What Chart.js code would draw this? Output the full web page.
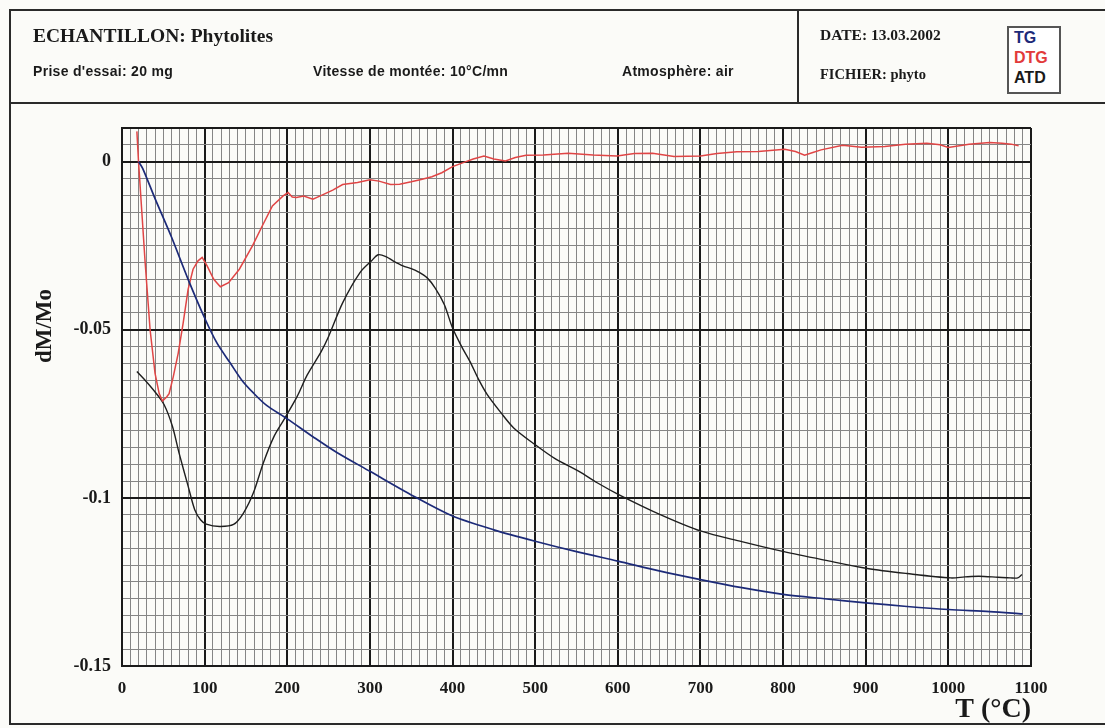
<!DOCTYPE html>
<html>
<head>
<meta charset="utf-8">
<script src="https://cdn.jsdelivr.net/npm/chart.js@4.4.1/dist/chart.umd.min.js"></script>
<style>
  body { margin: 0; background: #fbfbf8; }
  #page { position: relative; width: 1105px; height: 728px; overflow: hidden; background: #fbfbf8; }
  #myChart { position: absolute; left: 0; top: 0; }
  .ln { position: absolute; background: #2a2a2a; }
  .t { position: absolute; white-space: nowrap; color: #1a1a1a; }
  .serif { font-family: "Liberation Serif", "DejaVu Serif", serif; font-weight: bold; }
  .sans { font-family: "Liberation Sans", Arial, sans-serif; font-weight: bold; letter-spacing: 0.3px; }
  #key { position: absolute; left: 1007px; top: 26px; width: 50px; height: 64px; border: 2px solid #555; background: #fff; }
  #key div { font-family: "Liberation Sans", Arial, sans-serif; font-weight: bold; font-size: 16px; line-height: 20px; padding-left: 5px; }
</style>
</head>
<body>
<div id="page">
  <canvas id="myChart" width="1105" height="728"></canvas>

  <!-- frame -->
  <div class="ln" style="left:9px;top:9px;width:1096px;height:2px"></div>
  <div class="ln" style="left:9px;top:102px;width:1096px;height:2px"></div>
  <div class="ln" style="left:9px;top:723px;width:1096px;height:2px"></div>
  <div class="ln" style="left:9px;top:9px;width:2px;height:716px"></div>
  <div class="ln" style="left:797px;top:9px;width:2px;height:95px"></div>

  <!-- header -->
  <div class="t serif" style="left:33px;top:25px;font-size:19.5px">ECHANTILLON: Phytolites</div>
  <div class="t sans" style="left:33px;top:63px;font-size:14px">Prise d'essai: 20 mg</div>
  <div class="t sans" style="left:313px;top:63px;font-size:14px">Vitesse de montée: 10°C/mn</div>
  <div class="t sans" style="left:622px;top:63px;font-size:14px">Atmosphère: air</div>
  <div class="t serif" style="left:820px;top:26px;font-size:15.5px">DATE: 13.03.2002</div>
  <div class="t serif" style="left:820px;top:66px;font-size:14.5px">FICHIER: phyto</div>
  <div id="key">
    <div style="color:#1c2a78">TG</div>
    <div style="color:#e23a3a">DTG</div>
    <div style="color:#1a1a1a">ATD</div>
  </div>
</div>

<script>
var ctx = document.getElementById('myChart').getContext('2d');

// tick labels
var xTickLabels = [0, 100, 200, 300, 400, 500, 600, 700, 800, 900, 1000, 1100]
var yTickLabels = [0, -0.05, -0.1, -0.15]

// TG (blue)
var tgT = [20, 25, 40, 60, 80, 100, 115, 131, 145, 159, 175, 200, 231, 260, 300, 353, 400, 450, 500, 550, 600, 650, 700, 750, 800, 850, 900, 950, 1000, 1050, 1090]
var tgV = [0, -0.002, -0.011, -0.0225, -0.035, -0.0465, -0.054, -0.0599, -0.065, -0.0688, -0.0725, -0.0765, -0.0818, -0.0865, -0.0921, -0.0995, -0.1054, -0.1095, -0.1129, -0.116, -0.1188, -0.1217, -0.1243, -0.1267, -0.1287, -0.13, -0.1312, -0.1323, -0.1332, -0.1338, -0.1345]

// DTG (red)
var dtgT = [18, 20, 24, 28, 34, 40, 45, 49, 54, 57, 62, 68, 74, 80, 86, 92, 97, 103, 111, 119, 129, 142, 158, 170, 182, 195, 201, 206, 211, 220, 231, 240, 255, 267, 285, 300, 311, 325, 336, 350, 362, 375, 387, 400, 413, 425, 438, 450, 464, 476, 489, 510, 540, 570, 599, 620, 642, 668, 700, 720, 744, 770, 802, 815, 826, 836, 846, 872, 895, 923, 948, 974, 990, 1000, 1025, 1050, 1065, 1076, 1085]
var dtgV = [0.009, 0.0, -0.015, -0.03, -0.05, -0.063, -0.069, -0.0712, -0.070, -0.069, -0.064, -0.057, -0.048, -0.038, -0.032, -0.0295, -0.0285, -0.031, -0.035, -0.0372, -0.036, -0.032, -0.025, -0.019, -0.0132, -0.0102, -0.0092, -0.0105, -0.0107, -0.0102, -0.0112, -0.0102, -0.0085, -0.0068, -0.0062, -0.0054, -0.0058, -0.0068, -0.0067, -0.006, -0.0053, -0.0045, -0.0033, -0.0015, -0.0003, 0.0008, 0.0017, 0.0008, 0.0002, 0.0012, 0.0019, 0.002, 0.0025, 0.002, 0.0017, 0.0024, 0.0025, 0.0015, 0.0017, 0.0024, 0.0029, 0.003, 0.0037, 0.003, 0.0019, 0.0027, 0.0035, 0.0049, 0.0043, 0.0045, 0.0052, 0.0055, 0.005, 0.0042, 0.0052, 0.0057, 0.0055, 0.0052, 0.0047]

// ATD (black)
var atdT = [18, 29, 41, 51, 61, 69, 80, 88, 95, 102, 118, 135, 147, 159, 171, 184, 196, 212, 224, 241, 250, 267, 288, 302, 310, 320, 328, 340, 350, 358, 369, 379, 390, 400, 411, 421, 432, 442, 458, 474, 500, 525, 553, 575, 601, 650, 701, 750, 801, 850, 902, 950, 1003, 1020, 1037, 1060, 1075, 1084, 1089]
var atdV = [-0.0624, -0.0653, -0.0688, -0.0723, -0.0787, -0.0866, -0.0965, -0.1035, -0.1065, -0.1078, -0.1085, -0.1079, -0.1045, -0.0985, -0.0896, -0.0817, -0.0767, -0.0698, -0.0635, -0.0565, -0.052, -0.042, -0.033, -0.0295, -0.0277, -0.0283, -0.0295, -0.031, -0.0318, -0.0327, -0.0345, -0.0376, -0.0425, -0.0495, -0.055, -0.0594, -0.065, -0.0693, -0.0745, -0.0792, -0.0842, -0.0885, -0.0921, -0.0955, -0.099, -0.1048, -0.1099, -0.113, -0.116, -0.1185, -0.121, -0.1225, -0.1238, -0.1235, -0.1233, -0.1236, -0.1238, -0.1238, -0.1228]

function pts(xs, ys) {
  var out = []
  for (var i = 0; i < xs.length; i++) out.push({x: xs[i], y: ys[i]})
  return out
}

function xMajor(v) { return xTickLabels.indexOf(Math.round(v)) >= 0 }
function yMajor(v) {
  var r = Math.round(v * 1000)
  return r >= 10 || yTickLabels.some(function (t) { return Math.round(t * 1000) === r })
}

var serif = '"Liberation Serif", "DejaVu Serif", serif'

// y axis title sits above the middle of the axis, drawn by hand
var yTitle = {
  id: 'yTitle',
  afterDraw: function (chart) {
    var c = chart.ctx
    c.save()
    c.translate(45, 326)
    c.rotate(-Math.PI / 2)
    c.font = 'bold 23px ' + serif
    c.fillStyle = '#1a1a1a'
    c.textAlign = 'center'
    c.textBaseline = 'middle'
    c.fillText('dM/Mo', 0, 0)
    c.restore()
  }
}

var chart = new Chart(ctx, {
  type: 'line',
  data: {
    datasets: [{
      label: 'TG',
      data: pts(tgT, tgV),
      borderColor: '#1c2a78',
      borderWidth: 1.7,
      pointRadius: 0,
      tension: 0.3,
      fill: false
    },
    {
      label: 'DTG',
      data: pts(dtgT, dtgV),
      borderColor: '#e04545',
      borderWidth: 1.5,
      pointRadius: 0,
      tension: 0,
      fill: false
    },
    {
      label: 'ATD',
      data: pts(atdT, atdV),
      borderColor: '#1e1e1e',
      borderWidth: 1.4,
      pointRadius: 0,
      tension: 0.3,
      fill: false
    }]
  },
  plugins: [yTitle],
  options: {
    responsive: false,
    animation: false,
    devicePixelRatio: 1,
    layout: { padding: { left: 0, top: 128, right: 74, bottom: 4 } },
    plugins: { legend: { display: false }, tooltip: { enabled: false } },
    scales: {
      x: {
        type: 'linear',
        min: 0,
        max: 1100,
        afterFit: function (s) { s.height = 58 },
        border: { display: true, color: '#1a1a1a', width: 2 },
        grid: {
          drawTicks: false,
          color: function (c) { return xMajor(c.tick.value) ? '#1a1a1a' : '#858585' },
          lineWidth: function (c) { return xMajor(c.tick.value) ? 2 : 1 }
        },
        ticks: {
          stepSize: 10,
          maxTicksLimit: 200,
          autoSkip: false,
          maxRotation: 0,
          minRotation: 0,
          padding: 12,
          color: '#1a1a1a',
          font: { family: serif, size: 17, weight: 'bold' },
          callback: function (v) { return xMajor(v) ? String(Math.round(v)) : '' }
        },
        title: {
          display: true,
          text: 'T (°C)',
          align: 'end',
          color: '#1a1a1a',
          padding: { top: 0, bottom: 0 },
          font: { family: serif, size: 28, weight: 'bold', lineHeight: 1 }
        }
      },
      y: {
        type: 'linear',
        min: -0.15,
        max: 0.01,
        afterFit: function (s) { s.width = 122 },
        border: { display: true, color: '#1a1a1a', width: 2 },
        grid: {
          drawTicks: false,
          color: function (c) { return yMajor(c.tick.value) ? '#1a1a1a' : '#858585' },
          lineWidth: function (c) { return yMajor(c.tick.value) ? 2 : 1 }
        },
        ticks: {
          stepSize: 0.005,
          maxTicksLimit: 200,
          autoSkip: false,
          padding: 11,
          color: '#1a1a1a',
          font: { family: serif, size: 18, weight: 'bold' },
          callback: function (v) {
            var r = Math.round(v * 1000)
            var hit = yTickLabels.filter(function (t) { return Math.round(t * 1000) === r })
            return hit.length ? String(hit[0]) : ''
          }
        }
      }
    }
  }
});
</script>
</body>
</html>
